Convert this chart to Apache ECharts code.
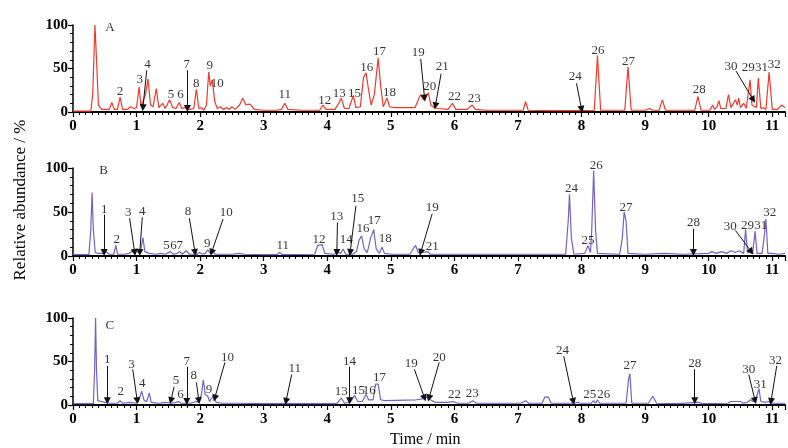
<!DOCTYPE html>
<html><head><meta charset="utf-8">
<script src="https://cdn.jsdelivr.net/npm/echarts@6/dist/echarts.min.js"></script>
<style>html,body{margin:0;padding:0;background:#fff}#c{width:788px;height:448px}</style>
</head><body><div id="c"></div>
<script>
// x ticks (min) and y ticks (%)
const xTicks = [0,1,2,3,4,5,6,7,8,9,10,11];
const yTicks = [0,50,100];

// Trace A (red): [time/min, relative abundance/%]
const traceA = [
[0,1],[0.28,1],[0.31,20],[0.345,100],[0.37,60],[0.40,8],[0.45,3],[0.57,3],[0.61,11],[0.65,3],[0.70,3],[0.74,17],[0.78,3],[0.86,3],[0.90,6],[0.93,8],[0.96,4],[1.00,5],[1.04,29],[1.07,6],[1.10,8],[1.14,20],[1.18,38],[1.22,8],[1.26,6],[1.31,27],[1.35,5],[1.41,10],[1.45,4],[1.52,14],[1.57,5],[1.62,4],[1.67,11],[1.71,4],[1.76,5],[1.85,3],[1.90,4],[1.94,26],[1.98,4],[2.02,5],[2.06,2],[2.10,8],[2.135,46],[2.16,30],[2.19,37],[2.23,12],[2.27,4],[2.32,6],[2.36,3],[2.42,5],[2.46,3],[2.50,6],[2.55,3],[2.62,8],[2.67,16],[2.72,8],[2.76,9],[2.80,8],[2.85,3],[3.0,2],[3.20,2],[3.28,3],[3.33,10],[3.38,3],[3.6,2],[3.88,2],[3.93,8],[3.98,3],[4.12,3],[4.18,10],[4.22,16],[4.27,4],[4.34,4],[4.41,19],[4.45,5],[4.52,6],[4.57,40],[4.61,45],[4.65,25],[4.69,8],[4.74,20],[4.80,62],[4.84,30],[4.88,6],[4.94,16],[4.98,6],[5.05,5],[5.38,5],[5.42,12],[5.47,20],[5.51,14],[5.55,18],[5.59,22],[5.63,8],[5.68,5],[5.75,4],[5.90,3],[5.97,10],[6.02,3],[6.20,3],[6.28,8],[6.33,3],[6.5,2],[6.8,2],[7.08,2],[7.12,12],[7.16,2],[7.5,1.5],[8.0,1.5],[8.20,2],[8.25,65],[8.30,2],[8.68,2],[8.73,52],[8.78,2],[9.0,2],[9.07,4],[9.12,2],[9.22,2],[9.27,14],[9.32,2],[9.78,2],[9.83,18],[9.88,2],[10.02,2],[10.06,8],[10.09,3],[10.13,6],[10.16,13],[10.19,4],[10.27,4],[10.31,20],[10.35,5],[10.38,6],[10.42,14],[10.45,8],[10.47,16],[10.50,5],[10.55,10],[10.59,4],[10.62,6],[10.65,37],[10.68,8],[10.71,10],[10.75,5],[10.78,39],[10.82,4],[10.86,5],[10.90,3],[10.95,46],[11.0,3],[11.08,3],[11.15,8],[11.2,5]
];
// Trace B (purple)
const traceB = [
[0,1.5],[0.25,1.5],[0.28,30],[0.30,72],[0.32,30],[0.35,4],[0.40,3],[0.47,3],[0.52,5],[0.57,2],[0.64,2],[0.675,12],[0.70,2],[0.80,2],[0.88,3],[0.95,6],[1.0,5],[1.03,7],[1.06,4],[1.10,21],[1.13,5],[1.2,3],[1.3,2],[1.38,3],[1.45,2],[1.53,5],[1.58,2],[1.64,3],[1.68,5],[1.72,2],[1.78,6],[1.83,2],[1.95,2],[1.99,4],[2.04,2],[2.08,3],[2.12,7],[2.16,3],[2.20,5],[2.24,2],[2.5,2],[2.62,3],[2.7,2],[3.0,1.5],[3.20,1.5],[3.25,4],[3.30,1.5],[3.80,2],[3.85,12],[3.88,13],[3.92,13],[3.96,3],[4.1,2],[4.17,4],[4.21,3],[4.25,8],[4.29,2],[4.40,2],[4.46,5],[4.50,18],[4.54,23],[4.58,8],[4.63,4],[4.68,20],[4.73,30],[4.77,8],[4.82,3],[4.86,10],[4.90,3],[5.0,2],[5.3,2],[5.35,8],[5.39,12],[5.43,4],[5.50,4],[5.58,5],[5.62,2],[6.0,2],[7.0,2],[7.5,2],[7.75,2],[7.79,40],[7.81,70],[7.84,20],[7.88,2],[8.05,3],[8.10,12],[8.14,4],[8.16,30],[8.19,97],[8.22,30],[8.25,3],[8.60,2],[8.64,20],[8.67,50],[8.70,40],[8.73,3],[9.0,2],[9.3,3],[9.6,2],[10.0,3],[10.05,5],[10.12,3],[10.2,5],[10.28,3],[10.35,6],[10.42,4],[10.48,6],[10.55,3],[10.58,30],[10.61,4],[10.65,4],[10.69,3],[10.73,28],[10.76,3],[10.84,3],[10.87,20],[10.90,42],[10.93,3],[11.0,3],[11.1,2],[11.2,3]
];
// Trace C (purple)
const traceC = [
[0,1.5],[0.32,1.5],[0.34,40],[0.355,100],[0.37,40],[0.39,5],[0.45,4],[0.50,3],[0.53,4],[0.58,2],[0.70,2],[0.74,5],[0.78,2],[0.9,3],[1.0,2],[1.04,6],[1.08,16],[1.12,5],[1.16,4],[1.20,14],[1.23,3],[1.35,2],[1.45,3],[1.55,2],[1.62,3],[1.66,4],[1.70,2],[1.85,2],[1.93,4],[1.98,3],[2.02,12],[2.05,29],[2.08,12],[2.12,10],[2.15,4],[2.18,8],[2.22,12],[2.25,3],[2.35,2],[2.6,2],[3.0,1.5],[4.15,1.5],[4.22,8],[4.27,2],[4.36,3],[4.43,11],[4.48,4],[4.55,4],[4.61,12],[4.65,6],[4.72,6],[4.76,24],[4.80,24],[4.84,6],[4.90,5],[5.4,6],[5.50,7],[5.56,9],[5.62,6],[5.7,3],[5.9,3],[5.98,4],[6.05,2],[6.22,2],[6.29,5],[6.35,2],[7.05,2],[7.12,5],[7.17,2],[7.38,2],[7.42,9],[7.45,7],[7.48,9],[7.52,2],[7.88,2],[7.93,3],[7.98,2],[8.15,2],[8.19,5],[8.22,2],[8.25,6],[8.28,2],[8.70,2],[8.74,30],[8.76,36],[8.79,2],[9.05,2],[9.12,10],[9.18,2],[9.5,1.5],[9.84,3],[9.9,1.5],[10.3,2],[10.35,4],[10.38,2],[10.42,4],[10.45,2],[10.5,4],[10.55,2],[10.6,3],[10.66,6],[10.70,4],[10.74,6],[10.79,19],[10.82,4],[10.88,3],[10.94,4],[11.0,2],[11.2,2]
];

// Peak labels: [text, time, abundance]
const labelsA = [['A',0.58,97],['2',0.74,24],['3',1.05,37],['4',1.17,54],['5',1.54,20],['6',1.69,20],['7',1.79,54],['8',1.94,33],['9',2.15,53],['10',2.27,33],['11',3.33,20],['12',3.96,13],['13',4.19,21.5],['15',4.43,21.5],['16',4.62,51],['17',4.82,69],['18',4.98,22],['19',5.43,68],['20',5.61,29],['21',5.81,52],['22',6.0,18],['23',6.31,16],['24',7.90,41],['26',8.26,71],['27',8.74,58],['28',9.85,26],['30',10.35,52],['29',10.62,51],['31',10.83,51],['32',11.03,54]];
const labelsB = [['B',0.48,97],['1',0.49,53],['2',0.69,19],['3',0.87,49],['4',1.09,51],['5',1.47,12],['6',1.58,12],['7',1.68,12],['8',1.81,50],['9',2.11,14],['10',2.41,49],['11',3.30,12],['12',3.87,19],['13',4.15,45],['14',4.30,19],['15',4.48,65],['16',4.56,31],['17',4.74,40],['18',4.91,20],['19',5.65,55],['21',5.65,11],['24',7.84,77],['25',8.10,17],['26',8.23,103],['27',8.70,55],['28',9.76,38],['30',10.34,34],['29',10.61,35],['31',10.82,35],['32',10.96,49]];
const labelsC = [['C',0.58,91],['1',0.54,52],['2',0.75,15],['3',0.92,47],['4',1.09,25],['5',1.62,28],['6',1.69,11.5],['7',1.79,50],['8',1.90,34],['9',2.14,18],['10',2.43,55],['11',3.49,42],['13',4.22,15],['14',4.35,50],['15',4.49,17],['16',4.66,17],['17',4.82,31],['19',5.32,48],['20',5.76,55],['22',6.0,12],['23',6.28,13],['24',7.70,63],['25',8.13,12],['26',8.35,12],['27',8.76,45],['28',9.78,48],['30',10.63,41],['31',10.81,23],['32',11.05,51]];

// Arrows: [fromTime, fromAbund, toTime, toAbund]
const arrowsA = [[1.16,48,1.10,5],[1.80,48,1.80,4],[5.47,61,5.53,16],[5.79,44,5.70,7],[7.92,33,8.0,3],[10.43,47,10.70,14]];
const arrowsB = [[0.49,47,0.49,4],[0.89,43,0.97,4],[1.09,44,1.05,4],[1.83,43,1.92,4],[2.36,42,2.18,4],[4.16,38,4.15,4],[4.45,57,4.36,4],[5.65,48,5.47,4],[9.76,31,9.76,4],[10.42,29,10.67,5]];
const arrowsC = [[0.54,45,0.54,5],[0.94,41,1.01,5],[1.59,21,1.54,5],[1.79,44,1.79,4],[1.94,26,1.98,5],[2.39,49,2.23,8],[3.44,35,3.35,4],[4.35,44,4.35,5],[5.37,41,5.53,8],[5.76,49,5.60,8],[7.72,56,7.87,4],[9.78,41,9.78,5],[10.63,35,10.73,5],[11.07,45,10.98,4]];

const FONT = 'Liberation Serif';
const panels = [
  {trace: traceA, labels: labelsA, arrows: arrowsA, color: '#ee3a2f', top: 25, height: 87},
  {trace: traceB, labels: labelsB, arrows: arrowsB, color: '#7363c4', top: 168, height: 88},
  {trace: traceC, labels: labelsC, arrows: arrowsC, color: '#7363c4', top: 318, height: 87}
];

const grid = [], xAxis = [], yAxis = [], series = [];
panels.forEach((p, i) => {
  grid.push({left: 73, right: 1, top: p.top, height: p.height});
  xAxis.push({
    type: 'value', gridIndex: i, min: 0, max: 11.2, interval: 1,
    axisLine: {show: true, onZero: false, lineStyle: {color: '#000', width: 2}},
    axisTick: {show: true, length: 5, lineStyle: {color: '#000', width: 1.2}},
    minorTick: {show: true, splitNumber: 10, length: 3, lineStyle: {color: '#000', width: 1}},
    splitLine: {show: false},
    axisLabel: {color: '#000', fontFamily: FONT, fontSize: 15, fontWeight: 'bold', margin: 7,
      formatter: v => xTicks.indexOf(v) >= 0 ? String(v) : ''}
  });
  yAxis.push({
    type: 'value', gridIndex: i, min: 0, max: 100, interval: 50,
    axisLine: {show: true, lineStyle: {color: '#000', width: 1.5}},
    axisTick: {show: true, length: 5, lineStyle: {color: '#000', width: 1.2}},
    minorTick: {show: true, splitNumber: 5, length: 3, lineStyle: {color: '#000', width: 1}},
    splitLine: {show: false},
    axisLabel: {color: '#000', fontFamily: FONT, fontSize: 15, fontWeight: 'bold', margin: 5,
      formatter: v => yTicks.indexOf(v) >= 0 ? String(v) : ''}
  });
  series.push({
    type: 'line', xAxisIndex: i, yAxisIndex: i, data: p.trace, showSymbol: false,
    symbol: 'none', lineStyle: {color: p.color, width: 1.2}, animation: false, z: 2
  });
  series.push({
    type: 'scatter', xAxisIndex: i, yAxisIndex: i, clip: false, animation: false,
    symbolSize: 1, itemStyle: {color: 'rgba(0,0,0,0)'}, z: 4,
    data: p.labels.map(l => ({name: l[0], value: [l[1], l[2]]})),
    label: {show: true, position: 'inside', formatter: '{b}', color: '#000',
      fontFamily: FONT, fontSize: 13}
  });
  series.push({
    type: 'lines', coordinateSystem: 'cartesian2d', xAxisIndex: i, yAxisIndex: i,
    animation: false, z: 3, symbol: ['none', 'triangle'], symbolSize: [6, 7],
    lineStyle: {color: '#111', width: 1, opacity: 1},
    data: p.arrows.map(a => ({coords: [[a[0], a[1]], [a[2], a[3]]]}))
  });
});

const chart = echarts.init(document.getElementById('c'), null, {renderer: 'canvas'});
chart.setOption({
  animation: false,
  backgroundColor: '#fff',
  grid, xAxis, yAxis, series,
  graphic: [
    {type: 'text', left: 390, top: 432, style: {text: 'Time / min', fill: '#000', font: '16px "Liberation Serif"'}},
    {type: 'text', x: 21, y: 200, rotation: Math.PI / 2, originX: 0, originY: 0,
     style: {text: 'Relative abundance / %', fill: '#000', font: '17px "Liberation Serif"', align: 'center', verticalAlign: 'middle'}}
  ]
});
</script></body></html>
